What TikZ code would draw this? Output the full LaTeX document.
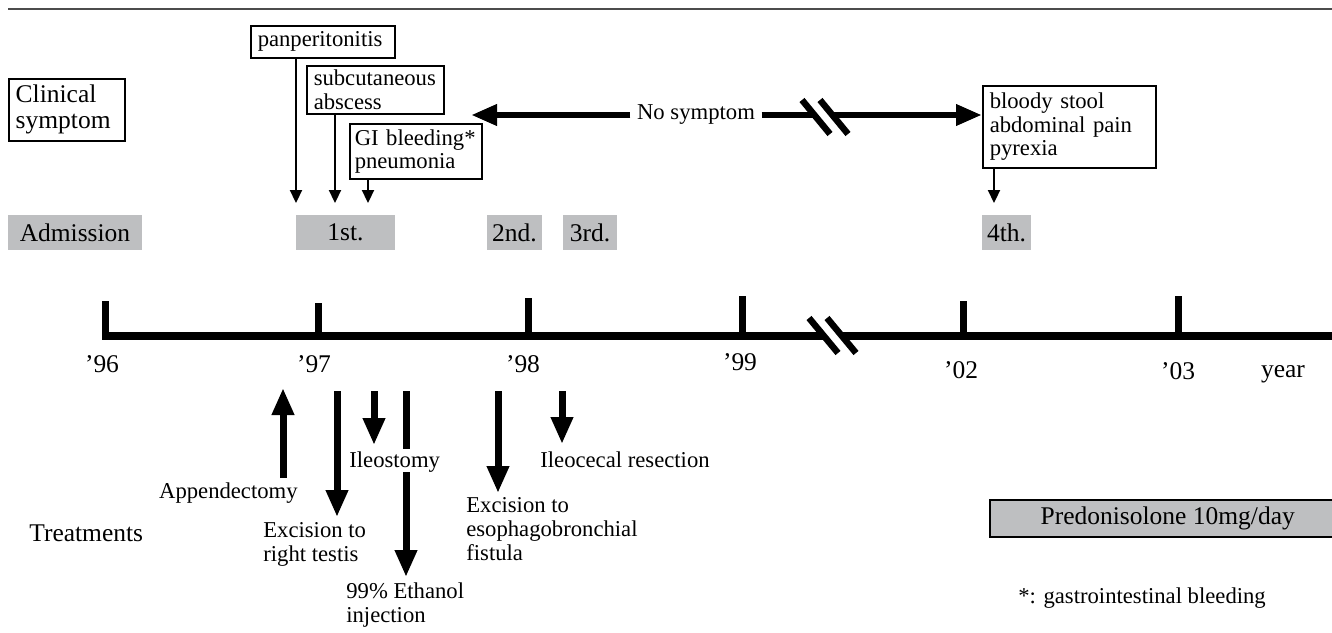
\documentclass[tikz,border=0pt]{standalone}
\usepackage{fontspec}
\setmainfont{Liberation Serif}
\usetikzlibrary{arrows.meta}
\definecolor{boxgray}{RGB}{190,191,193}
\newcommand{\lrgfont}{\fontsize{14.5}{14.7}\selectfont}
\newcommand{\boxfont}{\fontsize{12.9}{13.3}\selectfont}
\newcommand{\lblfont}{\fontsize{12.9}{13.8}\selectfont}

\begin{document}
\begin{tikzpicture}[x=0.2mm, y=-0.2mm,
	symbox/.style={draw, line width=0.3mm, anchor=north west, align=left, inner xsep=1.4mm, inner ysep=0.4mm, font=\boxfont},
	admbox/.style={fill=boxgray, inner sep=0pt, minimum height=7mm, font=\lrgfont},
	symarrow/.style={line width=0.45mm, -{Triangle[length=2.6mm, width=2.4mm]}},
	bigarrow/.style={line width=1.35mm, -{Triangle[length=5.2mm, width=4mm]}},
	treatarrow/.style={line width=1.4mm, -{Triangle[length=5.4mm, width=4.2mm]}},
	lbl/.style={inner sep=0pt, font=\lblfont, align=left},
	yr/.style={inner sep=0pt, font=\lrgfont, anchor=base},
	tickline/.style={line width=1.4mm},
	axisline/.style={line width=1.5mm},
	brk/.style={line width=1.3mm},
	brkgap/.style={white, line width=2mm}]
	\useasboundingbox (0, 0) rectangle (1332, 633);
	\coordinate (0) at (8, 9);
	\coordinate (00) at (1332, 9);
	\draw[line width=0.4mm, black!70] (0) to (00);
	\node[symbox, font=\lrgfont, text width=20.4mm, minimum height=12.4mm] (1) at (8, 78) {Clinical\\symptom};
	\node[symbox, text width=26mm, minimum height=6.4mm] (2) at (250, 25) {panperitonitis};
	\node[symbox, text width=24.6mm, minimum height=9.6mm] (3) at (306, 65) {subcutaneous\\abscess};
	\node[symbox, inner xsep=1mm, text width=24.4mm, minimum height=11mm] (4) at (349, 123) {GI bleeding*\\pneumonia};
	\node[symbox, text width=31.8mm, minimum height=16.4mm] (5) at (982, 85) {bloody stool\\abdominal pain\\pyrexia};
	\node[admbox, minimum width=26.8mm] (6) at (75, 232.5) {Admission};
	\node[admbox, minimum width=19.8mm] (7) at (345.5, 232.5) {1st.};
	\node[admbox, minimum width=11mm] (8) at (514.5, 232.5) {2nd.};
	\node[admbox, minimum width=10.8mm] (9) at (590, 232.5) {3rd.};
	\node[admbox, minimum width=9.8mm] (10) at (1006.5, 232.5) {4th.};
	\coordinate (11) at (296, 203);
	\coordinate (12) at (335, 203);
	\coordinate (13) at (368, 203);
	\coordinate (14) at (994, 203);
	\draw[symarrow] (2.south -| 11) to (11);
	\draw[symarrow] (3.south -| 12) to (12);
	\draw[symarrow] (4.south -| 13) to (13);
	\draw[symarrow] (5.south -| 14) to (14);
	\node[lbl, fill=white, inner xsep=1.3mm, inner ysep=0.5mm] (15) at (696, 115) {No symptom};
	\coordinate (16) at (471, 115);
	\draw[bigarrow] (15.west) to (16);
	\draw[bigarrow] (15.east) to (5.west |- 15.east);
	\draw[brkgap] (811, 100) to (839, 134);
	\draw[brk] (802, 100) to (830, 134);
	\draw[brk] (820, 100) to (848, 134);
	\coordinate (20) at (102, 336);
	\coordinate (21) at (1340, 336);
	\draw[axisline] (20) to (21);
	\coordinate (22) at (105, 301);
	\coordinate (23) at (318, 303);
	\coordinate (24) at (528, 298);
	\coordinate (25) at (742, 296);
	\coordinate (26) at (963, 301);
	\coordinate (27) at (1178, 296);
	\draw[tickline] (22) to (22 |- 20);
	\draw[tickline] (23) to (23 |- 20);
	\draw[tickline] (24) to (24 |- 20);
	\draw[tickline] (25) to (25 |- 20);
	\draw[tickline] (26) to (26 |- 20);
	\draw[tickline] (27) to (27 |- 20);
	\draw[brkgap] (818, 318) to (847, 353);
	\draw[brk] (809, 318) to (838, 353);
	\draw[brk] (827, 318) to (856, 353);
	\node[yr] (30) at (102, 372) {’96};
	\node[yr] (31) at (314, 372) {’97};
	\node[yr] (32) at (523, 372) {’98};
	\node[yr] (33) at (740, 370) {’99};
	\node[yr] (34) at (961, 378) {’02};
	\node[yr] (35) at (1178, 379) {’03};
	\node[yr] (36) at (1283, 377) {year};
	\node[yr, anchor=base west] (40) at (29, 541) {Treatments};
	\coordinate (41) at (283, 478);
	\coordinate (42) at (283, 388);
	\draw[treatarrow] (41) to (42);
	\node[lbl, anchor=base east] (43) at (298, 498) {Appendectomy};
	\coordinate (44) at (337, 391);
	\coordinate (45) at (337, 517);
	\draw[treatarrow] (44) to (45);
	\node[lbl, anchor=north west] (46) at (263, 522) {Excision to\\right testis};
	\coordinate (47) at (374, 391);
	\coordinate (48) at (374, 445);
	\draw[treatarrow] (47) to (48);
	\node[lbl, anchor=base west] (49) at (349, 467) {Ileostomy};
	\coordinate (50) at (406, 391);
	\coordinate (51) at (406, 449);
	\coordinate (52) at (406, 472);
	\coordinate (53) at (406, 577);
	\draw[line width=1.4mm] (50) to (51);
	\draw[treatarrow] (52) to (53);
	\node[lbl, anchor=north west] (54) at (346, 582) {99\% Ethanol\\injection};
	\coordinate (55) at (498, 391);
	\coordinate (56) at (498, 493);
	\draw[treatarrow] (55) to (56);
	\node[lbl, anchor=north west] (57) at (466, 497) {Excision to\\esophagobronchial\\fistula};
	\coordinate (58) at (562, 391);
	\coordinate (59) at (562, 444);
	\draw[treatarrow] (58) to (59);
	\node[lbl, anchor=base west] (60) at (540, 467) {Ileocecal resection};
	\node[draw, fill=boxgray, line width=0.3mm, minimum width=71.2mm, minimum height=7.4mm, anchor=west, font=\lrgfont] (61) at (989, 518.5) {Predonisolone 10mg/day};
	\node[lbl, anchor=base west] (62) at (1018, 603) {*: gastrointestinal bleeding};
\end{tikzpicture}
\end{document}
